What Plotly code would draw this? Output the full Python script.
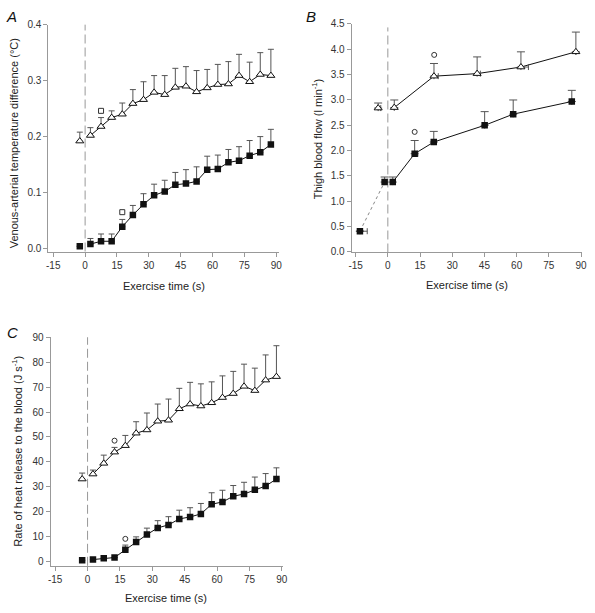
import plotly.graph_objects as go

# ---------------- data ----------------
# Panel A: venous-arterial temperature difference (°C)
A_base_time = [-2.5]
A_base_tri = [0.192]
A_base_tri_err = [0.016]
A_base_sq = [0.004]
A_base_sq_err = [0.0]
A_time = [2.5, 7.5, 12.5, 17.5, 22.5, 27.5, 32.5, 37.5, 42.5, 47.5,
          52.5, 57.5, 62.5, 67.5, 72.5, 77.5, 82.5, 87.5]
A_tri = [0.202, 0.218, 0.234, 0.240, 0.259, 0.266, 0.279, 0.275, 0.288, 0.290,
         0.280, 0.287, 0.293, 0.294, 0.309, 0.298, 0.311, 0.309]
A_tri_err = [0.014, 0.016, 0.012, 0.020, 0.025, 0.032, 0.030, 0.034, 0.034, 0.035,
             0.038, 0.033, 0.036, 0.040, 0.038, 0.035, 0.039, 0.047]
A_sq = [0.008, 0.013, 0.013, 0.039, 0.060, 0.079, 0.095, 0.102, 0.114, 0.116,
        0.120, 0.141, 0.142, 0.154, 0.157, 0.166, 0.172, 0.186]
A_sq_err = [0.010, 0.013, 0.013, 0.013, 0.017, 0.019, 0.020, 0.020, 0.022, 0.025,
            0.026, 0.024, 0.025, 0.023, 0.025, 0.027, 0.028, 0.027]
A_sig_tri_time = [7.5]
A_sig_tri = [0.246]
A_sig_sq_time = [17.5]
A_sig_sq = [0.065]

# Panel B: thigh blood flow (l min-1)
B_tri_time = [-4.5, 3.0, 21.5, 41.6, 62.0, 87.6]
B_tri = [2.84, 2.85, 3.47, 3.52, 3.65, 3.95]
B_tri_err = [0.10, 0.15, 0.25, 0.33, 0.30, 0.39]
B_tri_xerr = [1.2, 0.0, 2.0, 1.5, 3.5, 0.0]
B_sq_time = [-13.0, -1.5, 2.3, 12.5, 21.4, 45.1, 58.4, 85.7]
B_sq = [0.41, 1.38, 1.38, 1.94, 2.17, 2.50, 2.72, 2.97]
B_sq_err = [0.0, 0.10, 0.10, 0.26, 0.21, 0.27, 0.28, 0.22]
B_sq_xerr = [3.4, 0.0, 0.0, 1.5, 0.0, 0.0, 0.0, 0.0]
B_sig_time = [21.6, 12.5]
B_sig = [3.89, 2.37]

# Panel C: rate of heat release to the blood (J s-1)
C_base_time = [-2.5]
C_base_tri = [33.1]
C_base_tri_err = [2.4]
C_base_sq = [0.5]
C_base_sq_err = [0.0]
C_time = A_time
C_tri = [35.1, 39.4, 43.9, 46.5, 51.5, 52.8, 56.3, 56.7, 61.3, 63.2,
         62.4, 63.7, 65.8, 67.4, 70.3, 68.6, 72.8, 74.2]
C_tri_err = [1.6, 3.3, 1.9, 4.1, 4.6, 6.8, 6.9, 8.5, 8.2, 8.7,
             8.9, 8.4, 8.7, 8.9, 8.9, 9.0, 10.1, 12.4]
C_sq = [0.8, 1.3, 1.6, 4.7, 7.8, 10.8, 13.5, 14.7, 17.1, 17.9,
        19.1, 23.0, 23.9, 26.2, 27.1, 28.8, 30.3, 33.1]
C_sq_err = [0.0, 0.0, 0.0, 1.9, 2.1, 2.6, 2.9, 3.3, 3.5, 3.7,
            4.2, 4.6, 4.7, 4.3, 4.7, 5.1, 5.0, 4.5]
C_sig_time = [12.5, 17.5]
C_sig = [48.5, 9.1]

x_ticks = [-15, 0, 15, 30, 45, 60, 75, 90]

# ---------------- styling ----------------
W, H = 595, 613
FONT = "Liberation Sans, Arial, sans-serif"
ERR_COL = "#555555"
LINE_COL = "#111111"
AXIS_COL = "#999999"

def px_x(p):
    return p / W

def px_y(p):
    return 1 - p / H

fig = go.Figure()

def err(arr, width=3):
    return dict(type="data", array=arr, arrayminus=[0] * len(arr), symmetric=False,
                color=ERR_COL, thickness=1, width=width)

def xerr(arr):
    return dict(type="data", array=arr, arrayminus=[0] * len(arr), symmetric=False,
                color=ERR_COL, thickness=1, width=3)

tri_marker = dict(symbol="triangle-up", size=7, color="white",
                  line=dict(color="#111111", width=1))
sq_marker = dict(symbol="square", size=6.5, color="#111111",
                 line=dict(color="#111111", width=0))

def add_panel(xa, ya, base_t, base_tri, base_tri_e, base_sq, base_sq_e,
              t, tri, tri_e, sq, sq_e):
    fig.add_trace(go.Scatter(x=t, y=tri, mode="lines+markers", marker=tri_marker,
                             line=dict(color=LINE_COL, width=1), error_y=err(tri_e),
                             xaxis=xa, yaxis=ya, showlegend=False))
    fig.add_trace(go.Scatter(x=t, y=sq, mode="lines+markers", marker=sq_marker,
                             line=dict(color=LINE_COL, width=1), error_y=err(sq_e),
                             xaxis=xa, yaxis=ya, showlegend=False))
    fig.add_trace(go.Scatter(x=base_t, y=base_tri, mode="markers", marker=tri_marker,
                             error_y=err(base_tri_e), xaxis=xa, yaxis=ya, showlegend=False))
    fig.add_trace(go.Scatter(x=base_t, y=base_sq, mode="markers", marker=sq_marker,
                             error_y=err(base_sq_e), xaxis=xa, yaxis=ya, showlegend=False))

# Panel A
add_panel("x", "y", A_base_time, A_base_tri, A_base_tri_err, A_base_sq, A_base_sq_err,
          A_time, A_tri, A_tri_err, A_sq, A_sq_err)
fig.add_trace(go.Scatter(x=A_sig_tri_time + A_sig_sq_time, y=A_sig_tri + A_sig_sq,
                         mode="markers",
                         marker=dict(symbol="square-open", size=5, color="#333333",
                                     line=dict(width=1)),
                         xaxis="x", yaxis="y", showlegend=False))

# Panel B
fig.add_trace(go.Scatter(x=B_sq_time[:2], y=B_sq[:2], mode="lines",
                         line=dict(color="#888888", width=1, dash="dot"),
                         xaxis="x2", yaxis="y2", showlegend=False))
fig.add_trace(go.Scatter(x=B_sq_time[2:], y=B_sq[2:], mode="lines",
                         line=dict(color=LINE_COL, width=1),
                         xaxis="x2", yaxis="y2", showlegend=False))
fig.add_trace(go.Scatter(x=B_tri_time[1:], y=B_tri[1:], mode="lines",
                         line=dict(color=LINE_COL, width=1),
                         xaxis="x2", yaxis="y2", showlegend=False))
fig.add_trace(go.Scatter(x=B_tri_time, y=B_tri, mode="markers", marker=tri_marker,
                         error_y=err(B_tri_err, 4), error_x=xerr(B_tri_xerr),
                         xaxis="x2", yaxis="y2", showlegend=False))
fig.add_trace(go.Scatter(x=B_sq_time, y=B_sq, mode="markers", marker=sq_marker,
                         error_y=err(B_sq_err, 4), error_x=xerr(B_sq_xerr),
                         xaxis="x2", yaxis="y2", showlegend=False))
fig.add_trace(go.Scatter(x=B_sig_time, y=B_sig, mode="markers",
                         marker=dict(symbol="circle-open", size=5, color="#333333",
                                     line=dict(width=1)),
                         xaxis="x2", yaxis="y2", showlegend=False))

# Panel C
add_panel("x3", "y3", C_base_time, C_base_tri, C_base_tri_err, C_base_sq, C_base_sq_err,
          C_time, C_tri, C_tri_err, C_sq, C_sq_err)
fig.add_trace(go.Scatter(x=C_sig_time, y=C_sig, mode="markers",
                         marker=dict(symbol="circle-open", size=5, color="#333333",
                                     line=dict(width=1)),
                         xaxis="x3", yaxis="y3", showlegend=False))

# ---------------- axes ----------------
def xaxis_cfg(domain, rng, anchor):
    return dict(domain=domain, range=rng, anchor=anchor, tickvals=x_ticks,
                ticktext=[str(v) for v in x_ticks], showgrid=False, zeroline=False,
                showline=True, linecolor=AXIS_COL, linewidth=1, ticks="outside",
                ticklen=4, tickcolor=AXIS_COL, tickfont=dict(family=FONT, size=10, color="#333333"))

def yaxis_cfg(domain, rng, anchor, tickvals, fmt):
    return dict(domain=domain, range=rng, anchor=anchor, tickvals=tickvals,
                ticktext=[fmt.format(v) for v in tickvals], showgrid=False, zeroline=False,
                showline=True, linecolor=AXIS_COL, linewidth=1, ticks="outside",
                ticklen=4, tickcolor=AXIS_COL, tickfont=dict(family=FONT, size=10, color="#333333"))

A_yticks = [0.0, 0.1, 0.2, 0.3, 0.4]
B_yticks = [0.0, 0.5, 1.0, 1.5, 2.0, 2.5, 3.0, 3.5, 4.0, 4.5]
C_yticks = [0, 10, 20, 30, 40, 50, 60, 70, 80, 90]

fig.update_layout(
    xaxis=xaxis_cfg([px_x(46), px_x(279.5)], [-17.3, 91.2], "y"),
    yaxis=yaxis_cfg([px_y(250), px_y(19)], [-0.0053, 0.4], "x", A_yticks, "{:.1f}"),
    xaxis2=xaxis_cfg([px_x(353.3), px_x(587)], [-16.9, 90.5], "y2"),
    yaxis2=yaxis_cfg([px_y(251), px_y(18.3)], [-0.01, 4.5], "x2", B_yticks, "{:.1f}"),
    xaxis3=xaxis_cfg([px_x(48.3), px_x(283.5)], [-17.1, 90.4], "y3"),
    yaxis3=yaxis_cfg([px_y(570), px_y(337.3)], [-1.7, 90], "x3", C_yticks, "{:d}"),
)

# dashed vertical line at exercise onset
dash_line = dict(color="#999999", width=1, dash="9px,4px")
for xr, yr, top in [("x", "y", 1.0), ("x2", "y2", 0.985), ("x3", "y3", 1.0)]:
    fig.add_shape(type="line", xref=xr, yref=yr + " domain", x0=0, x1=0, y0=0, y1=top,
                  line=dash_line, layer="below")

# ---------------- text ----------------
ann = []
def label(text, x, y, size=11, angle=0, color="#222222"):
    ann.append(dict(text=text, x=px_x(x), y=px_y(y), xref="paper", yref="paper",
                    showarrow=False, textangle=angle, xanchor="center", yanchor="middle",
                    font=dict(family=FONT, size=size, color=color)))

label("<i>A</i>", 9, 11, 15, color="#111111")
label("<i>B</i>", 312, 11, 15, color="#111111")
label("<i>C</i>", 10, 332, 15, color="#111111")
label("Exercise time (s)", 163, 285)
label("Exercise time (s)", 470, 284)
label("Exercise time (s)", 165.5, 603)
label("Venous-arterial temperature difference (°C)", 12, 140, angle=-90)
label("Thigh blood flow (l min<sup>-1</sup>)", 318, 135, angle=-90)
label("Rate of heat release to the blood (J s<sup>-1</sup>)", 14, 453, angle=-90)

fig.update_layout(
    width=W, height=H, margin=dict(l=0, r=0, t=0, b=0),
    paper_bgcolor="white", plot_bgcolor="white",
    annotations=ann, showlegend=False,
    font=dict(family=FONT),
)

fig.write_html(
    "out.html",
    config={"displayModeBar": False},
    post_script="document.documentElement.style.margin='0';"
                "document.body.style.margin='0';"
                "document.body.style.overflow='hidden';",
)
